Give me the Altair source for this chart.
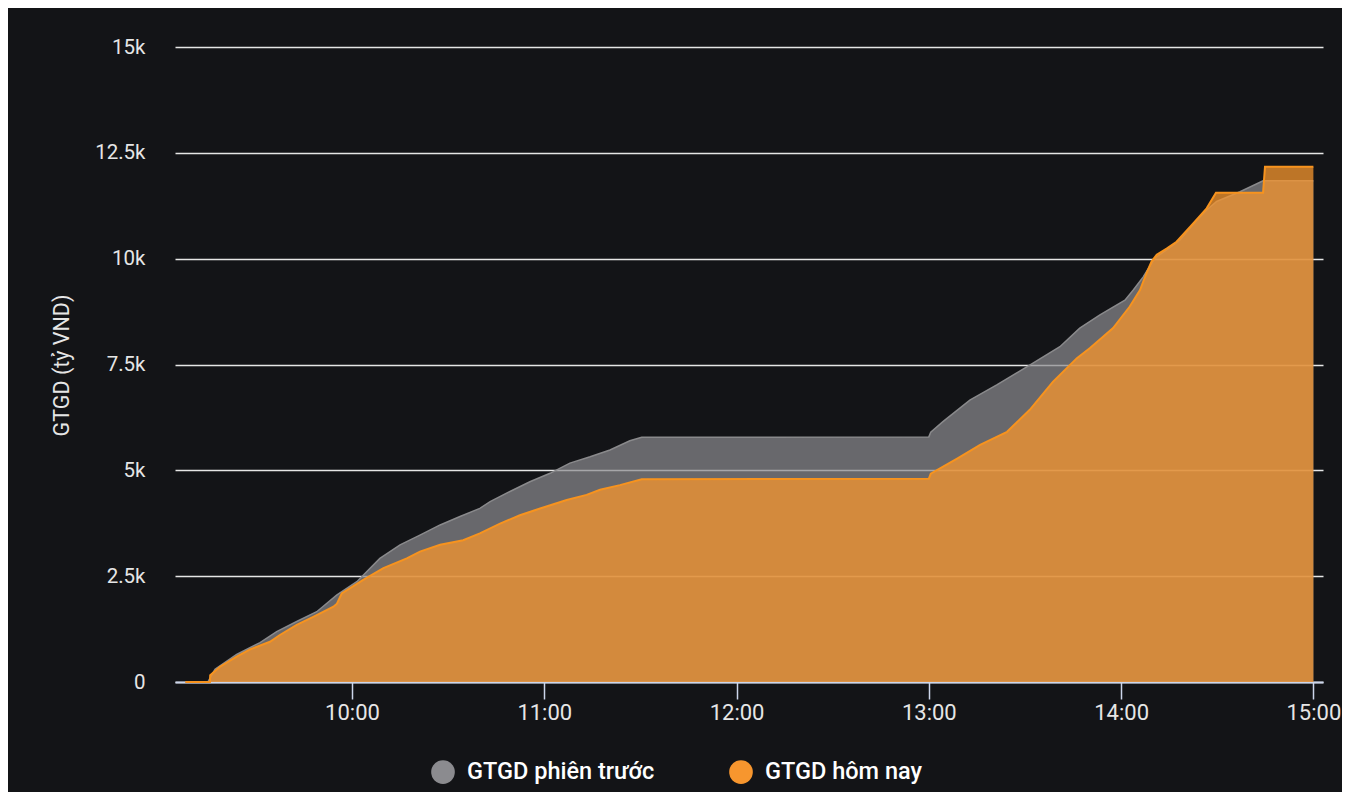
import altair as alt
import pandas as pd

DAY = "2024-01-02"
PREV = "GTGD phiên trước"
TODAY = "GTGD hôm nay"

prev_time = ["09:08:00", "09:15:00", "09:17:15", "09:24:00", "09:31:18", "09:36:30", "09:42:45",
             "09:49:00", "09:55:12", "10:01:30", "10:08:42", "10:15:00", "10:21:12", "10:27:30",
             "10:33:42", "10:39:54", "10:43:06", "10:49:18", "10:55:30", "11:01:48", "11:08:00",
             "11:14:18", "11:20:30", "11:26:42", "11:30:24", "13:00:00", "13:00:36", "13:04:24",
             "13:12:48", "13:21:12", "13:32:30", "13:40:54", "13:47:06", "13:53:24", "14:01:12",
             "14:03:48", "14:06:54", "14:09:30", "14:10:30", "14:14:12", "14:18:24", "14:23:36",
             "14:26:42", "14:29:48", "14:37:06", "14:44:18", "15:00:00"]
prev_value = [0, 0, 300, 650, 930, 1190, 1430,
              1660, 2050, 2370, 2920, 3240, 3470, 3710,
              3910, 4100, 4260, 4500, 4730, 4930, 5170,
              5320, 5480, 5700, 5780, 5790, 5900, 6150,
              6660, 7020, 7530, 7920, 8360, 8670, 9020,
              9260, 9570, 9890, 10010, 10210, 10440, 10910,
              11150, 11350, 11580, 11840, 11840]

today_time = ["09:08:00", "09:15:40", "09:15:45", "09:18:48", "09:24:00", "09:28:12", "09:34:24",
              "09:37:30", "09:42:45", "09:47:54", "09:54:12", "09:55:18", "09:56:48", "10:03:30",
              "10:09:48", "10:17:06", "10:21:12", "10:27:30", "10:34:42", "10:39:54", "10:46:12",
              "10:52:24", "10:58:42", "11:07:00", "11:13:12", "11:17:24", "11:23:36", "11:30:24",
              "13:00:00", "13:00:36", "13:09:06", "13:16:00", "13:24:24", "13:31:30", "13:38:42",
              "13:46:12", "13:50:18", "13:57:30", "14:02:42", "14:05:54", "14:07:54", "14:09:30",
              "14:11:06", "14:14:12", "14:17:18", "14:22:30", "14:26:42", "14:29:36", "14:44:18",
              "14:44:54", "15:00:00"]
today_value = [0, 0, 160, 360, 600, 770, 950,
               1110, 1350, 1540, 1780, 1850, 2090, 2410,
               2690, 2920, 3080, 3240, 3350, 3510, 3740,
               3940, 4100, 4300, 4420, 4540, 4650, 4790,
               4800, 4920, 5290, 5600, 5910, 6430, 7090,
               7650, 7890, 8360, 8870, 9260, 9650, 9930,
               10090, 10240, 10400, 10830, 11190, 11560, 11560,
               12170, 12170]

y_ticks = [0, 2500, 5000, 7500, 10000, 12500, 15000]
x_tick_hours = [10, 11, 12, 13, 14, 15]


def frame(times, vals, name):
    return pd.DataFrame({"t": [f"{DAY}T{t}" for t in times], "v": vals, "s": name})


def dt(h, m, s=0):
    return alt.DateTime(year=2024, month=1, date=2, hours=h, minutes=m, seconds=s)


prev_df = frame(prev_time, prev_value, PREV)
today_df = frame(today_time, today_value, TODAY)

FONT = "Roboto"
x_enc = alt.X(
    "t:T",
    scale=alt.Scale(domain=[dt(9, 4, 46), dt(15, 3, 0)]),
    axis=alt.Axis(
        values=[dt(h, 0) for h in x_tick_hours], format="%H:%M", title=None, grid=False,
        labelFont=FONT, labelFontSize=22, labelColor="#e6e6e6", labelPadding=3,
        tickColor="#ccd6eb", tickSize=17, tickWidth=1.5,
        domainColor="#ccd6eb", domainWidth=2,
    ),
)
y_enc = alt.Y(
    "v:Q",
    scale=alt.Scale(domain=[0, 15000]),
    axis=alt.Axis(
        values=y_ticks,
        labelExpr="datum.value == 0 ? '0' : format(datum.value / 1000, '~g') + 'k'",
        grid=True, gridColor="#e6e6e6", gridWidth=1.5, domain=False, ticks=False,
        labelFont=FONT, labelFontSize=20.5, labelColor="#e6e6e6", labelPadding=30,
        title="GTGD (tỷ VND)", titleFont=FONT, titleFontSize=21.5, titleFontWeight="normal",
        titleColor="#e6e6e6", titleX=-113, titleY=318, titleAngle=270,
        titleAlign="center", titleBaseline="middle",
    ),
)
color_enc = alt.Color(
    "s:N",
    scale=alt.Scale(domain=[PREV, TODAY], range=["#8b8b8f", "#f7962e"]),
    legend=alt.Legend(
        orient="none", legendX=256, legendY=713, direction="horizontal", title=None,
        symbolType="circle", symbolSize=560, symbolOpacity=1, symbolStrokeWidth=0,
        labelFont=FONT, labelFontSize=23.5, labelFontWeight=500, labelColor="#ffffff",
        labelOffset=12, columnPadding=74, labelLimit=0,
    ),
)

prev_area = alt.Chart(prev_df).mark_area(opacity=0.71).encode(x=x_enc, y=y_enc, color=color_enc)
prev_line = alt.Chart(prev_df).mark_line(color="#8a8a8c", strokeWidth=1.5).encode(x=x_enc, y=y_enc)
today_area = alt.Chart(today_df).mark_area(opacity=0.75).encode(x=x_enc, y=y_enc, color=color_enc)
today_line = alt.Chart(today_df).mark_line(color="#f7931e", strokeWidth=2).encode(x=x_enc, y=y_enc)

chart = (
    alt.layer(prev_area, prev_line, today_area, today_line)
    .properties(
        width=1148, height=635, background="#131417",
        padding={"left": 167, "top": 39, "right": 19, "bottom": 110},
        autosize=alt.AutoSizeParams(type="none"),
    )
    .configure_view(stroke=None)
)

chart.save("out.html", embed_options={"renderer": "svg", "actions": False})
